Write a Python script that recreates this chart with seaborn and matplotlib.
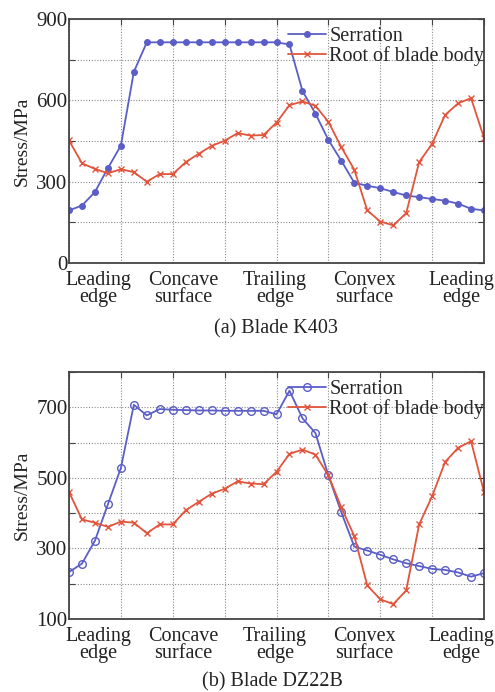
import numpy as np
import pandas as pd
import matplotlib
matplotlib.use("Agg")
import matplotlib.pyplot as plt
from matplotlib.ticker import MultipleLocator
import seaborn as sns

# ---- data ----
point_index = list(range(33))          # sample points along blade profile
x_step = 0.25                          # profile units per sample

k403_serration = [194, 212, 262, 350, 433, 705, 814, 814, 814, 814, 814, 814, 814, 814, 814, 814,
                  814, 806, 635, 551, 454, 377, 296, 285, 276, 262, 249, 243, 236, 230, 219, 200, 194]
k403_root = [452, 368, 347, 331, 346, 335, 300, 328, 328, 372, 403, 432, 451, 479, 470, 472,
             518, 582, 596, 580, 521, 427, 344, 194, 153, 139, 184, 372, 440, 546, 589, 608, 462]

dz22b_serration = [233, 257, 322, 425, 528, 707, 677, 695, 693, 692, 691, 691, 690, 690, 690, 690,
                   680, 747, 669, 627, 507, 402, 305, 294, 282, 269, 258, 250, 242, 239, 232, 220, 230]
dz22b_root = [460, 382, 373, 361, 376, 373, 343, 368, 368, 408, 432, 455, 469, 490, 484, 482,
              517, 568, 580, 566, 507, 416, 335, 195, 156, 142, 181, 368, 448, 545, 585, 604, 460]

series_names = ["Serration", "Root of blade body"]
region_labels = ["Leading\nedge", "Concave\nsurface", "Trailing\nedge", "Convex\nsurface", "Leading\nedge"]
region_label_pos = [0.57, 2.2, 3.97, 5.7, 7.56]
captions = ["(a) Blade K403", "(b) Blade DZ22B"]

blue = "#5a5ec6"
red = "#e0553c"

sns.set_theme(style="white")
plt.rcParams["font.family"] = ["Liberation Serif", "DejaVu Serif"]

fig = plt.figure(figsize=(4.95, 6.92), dpi=100)
W, H = 495, 692
ax1 = fig.add_axes([69 / W, 1 - 263 / H, 415 / W, 244 / H])
ax2 = fig.add_axes([69 / W, 1 - 619 / H, 415 / W, 247 / H])

def make_df(serr, root):
    xs = [i * x_step for i in point_index]
    return pd.DataFrame({"pos": xs * 2,
                         "stress": serr + root,
                         "series": [series_names[0]] * len(xs) + [series_names[1]] * len(xs)})

def draw(ax, serr, root, ylim, major, minor, blue_ms, blue_fill):
    df = make_df(serr, root)
    d1 = df[df.series == series_names[0]]
    d2 = df[df.series == series_names[1]]
    sns.lineplot(data=d1, x="pos", y="stress", ax=ax, color=blue, lw=1.3, linestyle="-",
                 marker="o", markersize=blue_ms, markerfacecolor=blue_fill,
                 markeredgecolor=blue, markeredgewidth=1.0, label=series_names[0])
    sns.lineplot(data=d2, x="pos", y="stress", ax=ax, color=red, lw=1.3, linestyle="-",
                 marker="x", markersize=4, markeredgecolor=red, markeredgewidth=1.0,
                 label=series_names[1])
    ax.set_xlim(0, 8)
    ax.set_ylim(*ylim)
    ax.set_yticks(major)
    ax.yaxis.set_minor_locator(MultipleLocator(minor))
    ax.set_xticks(range(9))
    ax.set_xticklabels([""] * 9)
    ax.set_xticks(region_label_pos, region_labels, minor=True)
    ax.tick_params(axis="x", which="minor", length=0, pad=6, labelsize=14.5)
    ax.tick_params(axis="both", which="major", direction="in", length=4, width=0.8,
                   top=True, right=True, color="#444444")
    ax.tick_params(axis="y", which="major", labelsize=15, pad=1, colors="#222222")
    ax.tick_params(axis="y", which="minor", direction="in", length=4, width=0.8,
                   right=True, left=True, color="#444444")
    for lab in ax.get_xticklabels(minor=True):
        lab.set_linespacing(0.85)
        lab.set_color("#222222")
    ax.grid(True, which="major", axis="x", ls=(0, (1, 1.5)), color="#8a8a8a", lw=0.8)
    ax.grid(True, which="both", axis="y", ls=(0, (1, 1.5)), color="#8a8a8a", lw=0.8)
    for s in ax.spines.values():
        s.set_color("#444444")
        s.set_linewidth(1.3)
    ax.set_xlabel("")
    ax.set_ylabel("Stress/MPa", fontsize=14, labelpad=4, color="#222222")
    ax.legend(loc="upper right", bbox_to_anchor=(1.005, 0.975), frameon=False, fontsize=14.5,
              handlelength=1.9, handletextpad=0.15, borderaxespad=0.0, borderpad=0.1,
              labelspacing=0.0)

draw(ax1, k403_serration, k403_root, (0, 900), [0, 300, 600, 900], 150, 4, blue)
draw(ax2, dz22b_serration, dz22b_root, (100, 800), [100, 300, 500, 700], 100, 5.5, "none")

fig.text(276 / W, 1 - 329 / H, captions[0], ha="center", va="center", fontsize=14.5, color="#222222")
fig.text(272 / W, 1 - 682 / H, captions[1], ha="center", va="center", fontsize=14.5, color="#222222")

fig.savefig("out.png", dpi=100)
